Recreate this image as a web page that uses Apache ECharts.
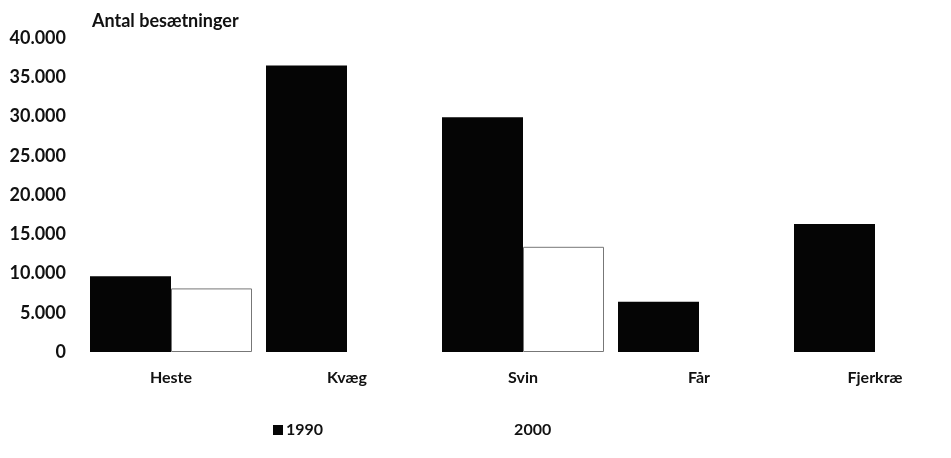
<!DOCTYPE html>
<html>
<head>
<meta charset="utf-8">
<script src="https://cdn.jsdelivr.net/npm/echarts@6/dist/echarts.min.js"></script>
<style>
html,body{margin:0;padding:0;background:#fff;overflow:hidden;}
#chart{width:963px;height:458px;}
</style>
</head>
<body>
<div id="chart"></div>
<script>
const categories = ['Heste', 'Kvæg', 'Svin', 'Får', 'Fjerkræ'];
const values1990 = [9650, 36500, 29900, 6400, 16300];
const values2000 = [8100, null, 13400, null, null];
const seriesNames = ['1990', '2000'];
const yTicks = [0, 5000, 10000, 15000, 20000, 25000, 30000, 35000, 40000];
const yAxisTitle = 'Antal besætninger';

const FONT = 'Lato, "Noto Sans", sans-serif';
function fmt(v) {
  return String(v).replace(/\B(?=(\d{3})+(?!\d))/g, '.');
}

const chart = echarts.init(document.getElementById('chart'));
chart.setOption({
  animation: false,
  backgroundColor: '#ffffff',
  grid: { left: 83, right: 0, top: 38, bottom: 106, containLabel: false },
  legend: {
    data: seriesNames,
    left: 268, top: 417,
    itemWidth: 10, itemHeight: 10, itemGap: 178,
    icon: 'rect',
    itemStyle: { borderWidth: 0 },
    textStyle: { fontFamily: FONT, fontSize: 16, color: '#111', fontWeight: 'bold', padding: [0, 0, 0, -2] }
  },
  xAxis: {
    type: 'category',
    data: categories,
    axisLine: { show: false },
    axisTick: { show: false },
    splitLine: { show: false },
    axisLabel: { fontFamily: FONT, fontSize: 16, color: '#111', fontWeight: 'bold', margin: 18 }
  },
  yAxis: {
    type: 'value',
    min: yTicks[0], max: yTicks[yTicks.length - 1], interval: yTicks[1] - yTicks[0],
    name: yAxisTitle,
    nameLocation: 'end',
    nameGap: 8,
    nameTextStyle: { fontFamily: FONT, fontSize: 18, color: '#111', fontWeight: 'bold', align: 'left', padding: [0, 0, 0, 9] },
    axisLine: { show: false },
    axisTick: { show: false },
    splitLine: { show: false },
    axisLabel: { fontFamily: FONT, fontSize: 18, color: '#111', fontWeight: 'bold', margin: 17, formatter: fmt }
  },
  series: [
    {
      name: seriesNames[0], type: 'bar', data: values1990,
      barWidth: 81, barGap: '0%',
      itemStyle: { color: '#050505' }
    },
    {
      name: seriesNames[1], type: 'bar', data: values2000,
      barWidth: 81,
      itemStyle: { color: '#ffffff', borderColor: '#777', borderWidth: 1 }
    }
  ]
});
</script>
</body>
</html>
